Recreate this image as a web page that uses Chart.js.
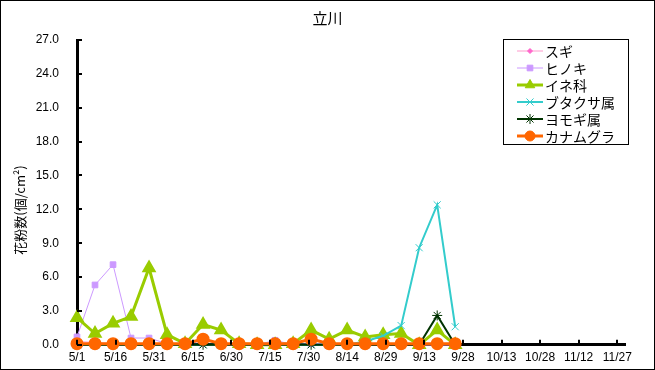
<!DOCTYPE HTML>

<head>
	<title>立川</title>
	<script src="https://cdn.jsdelivr.net/npm/chart.js@4/dist/chart.umd.min.js"></script>
	<style>
		body { margin: 0; background: #fff; }
	</style>
</head>

<body>
	<div>
		<canvas id="myChart" width="655" height="370"></canvas>
	</div>
	<script>
		// sampling days counted from 5/1 (weekly)
		const days = [0, 7, 14, 21, 28, 35, 42, 49, 56, 63, 70, 77, 84, 91, 98, 105, 112, 119, 126, 133, 140, 147];
		const tickDays = [0, 15, 30, 45, 60, 75, 90, 105, 120, 135, 150, 165, 180, 195, 210];
		const tickLabels = ['5/1', '5/16', '5/31', '6/15', '6/30', '7/15', '7/30', '8/14', '8/29', '9/13', '9/28', '10/13', '10/28', '11/12', '11/27'];

		const sugi = [0.3, 0.2, 0.1, 0.1, 0.1, 0, 0, 0, 0, 0, 0, 0, 0, 0, 0, 0, 0, 0, 0, 0, 0, 0];
		const hinoki = [0.7, 5.3, 7.1, 0.6, 0.6, 0.1, 0, 0.4, 0.1, 0, 0, 0.4, 0, 0.1, 0.1, 0, 0, 0, 0, 0, 0, 0];
		const ine = [2.4, 1.0, 1.9, 2.5, 6.8, 0.9, 0.1, 1.8, 1.3, 0.1, 0, 0, 0.1, 1.3, 0.5, 1.3, 0.7, 0.9, 1.0, 0, 1.3, 0];
		const butakusa = [0, 0, 0, 0, 0, 0, 0, 0, 0, 0, 0, 0, 0, 0, 0, 0, 0.3, 0.8, 1.7, 8.6, 12.4, 1.6];
		const yomogi = [0, 0, 0, 0, 0, 0, 0, 0, 0, 0, 0, 0, 0, 0, 0, 0, 0, 0, 0, 0, 2.6, 0];
		const kanamugura = [0.1, 0.1, 0.1, 0.1, 0.1, 0.1, 0.1, 0.5, 0.1, 0.1, 0.1, 0.1, 0.1, 0.5, 0.1, 0.1, 0.1, 0.1, 0.1, 0.1, 0.1, 0.1];

		const yTicks = [0, 3, 6, 9, 12, 15, 18, 21, 24, 27];

		function toPoints(values) {
			return values.map((v, i) => ({ x: days[i], y: v }))
		}

		const data = {
			datasets: [{
				label: 'スギ',
				data: toPoints(sugi),
				borderColor: '#FF99CC',
				backgroundColor: '#FF66CC',
				borderWidth: 1,
				pointStyle: 'rectRot',
				pointRadius: 2.5,
				order: 6
			}, {
				label: 'ヒノキ',
				data: toPoints(hinoki),
				borderColor: '#CC99FF',
				backgroundColor: '#CC99FF',
				borderWidth: 1,
				pointStyle: 'rect',
				pointRadius: 4,
				order: 5
			}, {
				label: 'イネ科',
				data: toPoints(ine),
				borderColor: '#99CC00',
				backgroundColor: '#99CC00',
				borderWidth: 3,
				pointStyle: 'triangle',
				pointRadius: 5.5,
				order: 4
			}, {
				label: 'ブタクサ属',
				data: toPoints(butakusa),
				borderColor: '#33CCCC',
				backgroundColor: '#33CCCC',
				borderWidth: 2,
				pointStyle: 'crossRot',
				pointRadius: 5,
				pointBorderWidth: 1,
				order: 3
			}, {
				label: 'ヨモギ属',
				data: toPoints(yomogi),
				borderColor: '#003300',
				backgroundColor: '#003300',
				borderWidth: 2,
				pointStyle: 'star',
				pointRadius: 5,
				pointBorderWidth: 1,
				order: 2
			}, {
				label: 'カナムグラ',
				data: toPoints(kanamugura),
				borderColor: '#FF6600',
				backgroundColor: '#FF6600',
				borderWidth: 3,
				pointStyle: 'circle',
				pointRadius: 5,
				order: 1
			}]
		};

		const cjk = '"Noto Sans CJK JP", "Liberation Sans", sans-serif';

		// frame, title, axis label, inward tick marks and legend box
		const decor = {
			id: 'decor',
			afterDraw(chart) {
				const ctx = chart.ctx;
				const xs = chart.scales.x;
				const ys = chart.scales.y;
				ctx.save();
				ctx.strokeStyle = '#000';
				ctx.lineWidth = 1;
				ctx.strokeRect(0.5, 0.5, chart.width - 1, chart.height - 1);

				ctx.fillStyle = '#000';
				ctx.font = '15px ' + cjk;
				ctx.textAlign = 'center';
				ctx.textBaseline = 'middle';
				ctx.fillText('立川', chart.width / 2, 18);

				ctx.save();
				ctx.translate(20, 210);
				ctx.rotate(-Math.PI / 2);
				ctx.font = '13px ' + cjk;
				ctx.fillText('花粉数(個/cm²)', 0, 0);
				ctx.restore();

				ctx.lineWidth = 2;
				ctx.beginPath();
				yTicks.forEach(v => {
					const y = Math.round(ys.getPixelForValue(v));
					ctx.moveTo(ys.right, y);
					ctx.lineTo(ys.right + 5, y);
				});
				tickDays.forEach(d => {
					const x = Math.round(xs.getPixelForValue(d));
					ctx.moveTo(x, xs.top);
					ctx.lineTo(x, xs.top - 5);
				});
				ctx.stroke();

				// legend
				ctx.lineWidth = 1;
				ctx.fillStyle = '#fff';
				ctx.fillRect(503, 39, 125, 105);
				ctx.strokeRect(503.5, 39.5, 125, 105);
				ctx.font = '14px ' + cjk;
				ctx.textAlign = 'left';
				chart.data.datasets.forEach((ds, i) => {
					const y = 51 + i * 17;
					ctx.strokeStyle = ds.borderColor;
					ctx.lineWidth = ds.borderWidth;
					ctx.beginPath();
					ctx.moveTo(517, y);
					ctx.lineTo(543, y);
					ctx.stroke();
					ctx.fillStyle = ds.backgroundColor;
					ctx.strokeStyle = ds.backgroundColor;
					ctx.lineWidth = ds.pointBorderWidth || 1;
					Chart.helpers.drawPoint(ctx, {
						pointStyle: ds.pointStyle,
						radius: ds.pointRadius,
						rotation: 0,
						borderWidth: ds.pointBorderWidth || 1
					}, 530, y);
					ctx.fillStyle = '#000';
					ctx.fillText(ds.label, 545, y + 1);
				});
				ctx.restore();
			}
		};

		const config = {
			type: 'line',
			data: data,
			options: {
				responsive: false,
				animation: false,
				layout: {
					padding: { left: 0, top: 40, right: 30, bottom: 0 }
				},
				datasets: {
					line: { clip: false }
				},
				elements: {
					line: { tension: 0 },
					point: { hoverRadius: 5 }
				},
				plugins: {
					legend: { display: false },
					tooltip: { enabled: false }
				},
				scales: {
					x: {
						type: 'linear',
						min: 0,
						max: 213,
						afterBuildTicks: scale => {
							scale.ticks = tickDays.map(v => ({ value: v }))
						},
						afterFit: scale => {
							scale.height = 25
						},
						grid: { display: false, drawTicks: false },
						border: { display: true, color: '#000', width: 3 },
						ticks: {
							autoSkip: false,
							maxRotation: 0,
							padding: 6,
							color: '#000',
							font: { family: '"Liberation Sans", Arial, sans-serif', size: 12 },
							callback: (v, i) => tickLabels[i]
						}
					},
					y: {
						type: 'linear',
						min: 0,
						max: 27,
						afterBuildTicks: scale => {
							scale.ticks = yTicks.map(v => ({ value: v }))
						},
						afterFit: scale => {
							scale.width = 77
						},
						grid: { display: false, drawTicks: false },
						border: { display: true, color: '#000', width: 3 },
						ticks: {
							padding: 18,
							color: '#000',
							font: { family: '"Liberation Sans", Arial, sans-serif', size: 12 },
							callback: v => v.toFixed(1)
						}
					}
				}
			},
			plugins: [decor]
		}

		const myChart = new Chart(
			document.getElementById('myChart'),
			config
		);
	</script>
</body>
